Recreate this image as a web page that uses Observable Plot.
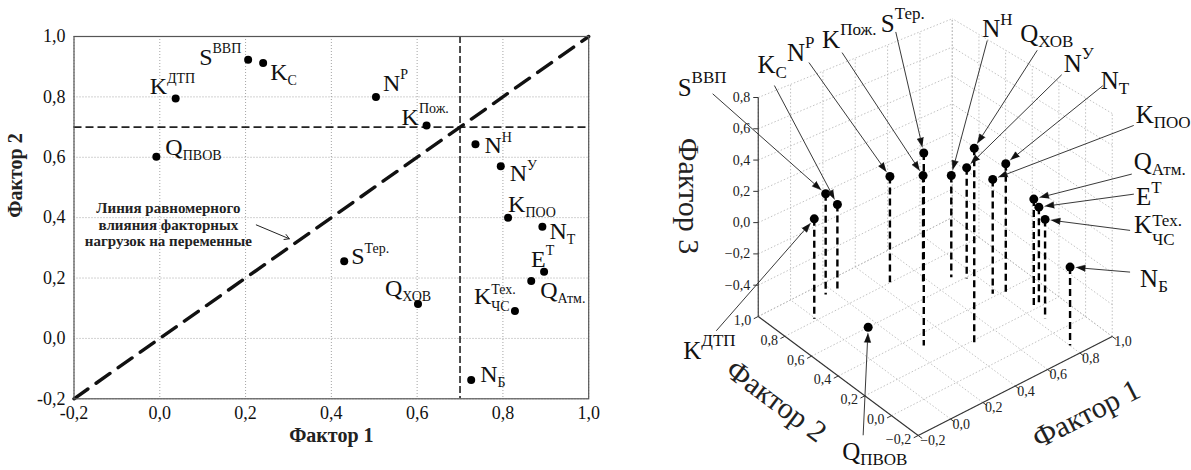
<!DOCTYPE html>
<html><head><meta charset="utf-8">
<script src="https://cdn.jsdelivr.net/npm/d3@7"></script>
<script src="https://cdn.jsdelivr.net/npm/@observablehq/plot@0.6"></script>
<style>
html,body{margin:0;padding:0;background:#fff;}
#wrap{position:relative;width:1191px;height:470px;overflow:hidden;font-family:"Liberation Serif",serif;}
#left{position:absolute;left:0;top:0;width:600px;height:470px;}
#right{position:absolute;left:600px;top:0;width:591px;height:470px;}
svg text{font-family:"Liberation Serif","Times New Roman",serif;}
</style></head><body>
<div id="wrap"><div id="left"></div><div id="right"></div></div>
<script>
// ---------------- DATA ----------------
const labelMain = ["S","K","K","N","K","Q","N","N","K","N","S","Q","E","Q","K","N"];
const labelSup  = ["ВВП","","ДТП","Р","Пож.","","Н","У","","","Тер.","","Т","","Тех.",""];
const labelSub  = ["","С","","","","ПВОВ","","","ПОО","Т","","ХОВ","","Атм.","ЧС","Б"];
// 2D loadings
const factor1 = [0.206,0.241,0.037,0.504,0.622,-0.008,0.736,0.795,0.812,0.892,0.430,0.602,0.896,0.866,0.828,0.726];
const factor2 = [0.923,0.912,0.795,0.800,0.705,0.602,0.643,0.570,0.400,0.370,0.256,0.114,0.221,0.190,0.091,-0.138];
// 3D loadings
const factor1_3d = [0.156,0.217,-0.006,0.452,0.577,0.150,0.702,0.752,0.772,0.828,0.264,0.454,0.900,0.857,0.841,0.801];
const factor2_3d = [0.926,0.912,0.815,0.803,0.706,0.600,0.646,0.591,0.420,0.390,0.321,0.173,0.229,0.215,0.111,-0.125];
const factor3_3d = [0.057,-0.035,0.038,0.098,0.100,-0.600,0.075,0.134,0.147,0.240,0.599,0.623,0.016,0.097,0.034,-0.112];
// ticks
const axisTicks = [-0.2,0,0.2,0.4,0.6,0.8,1.0];
const axisTickLabels = ["-0,2","0,0","0,2","0,4","0,6","0,8","1,0"];
const axis3dTickLabels = ["\u22120,2","0,0","0,2","0,4","0,6","0,8","1,0"];
const zTicks = [-0.4,-0.2,0,0.2,0.4,0.6,0.8];
const zTickLabels = ["\u22120,4","\u22120,2","0,0","0,2","0,4","0,6","0,8"];
const zGrid = [-0.6,-0.4,-0.2,0,0.2,0.4,0.6,0.8];
const f1Domain = [-0.2, 1.0], f2Domain = [-0.2, 1.0], f3Domain = [-0.6, 0.8];
const threshold = 0.7;
const diagonal = [-0.2, 1.0];
const annotationText = "Линия равномерного\nвлияния факторных\nнагрузок на переменные";
const annotationAnchor = [{x: 0.02, y: 0.377}];
const annotationArrow = [{x1: 0.225, y1: 0.376, x2: 0.302, y2: 0.33}];

// ---------------- LAYOUT (offsets in px) ----------------
const labelPos2d = [[-49,5],[7,17],[-26,-4],[7,-6],[-25,-1],[9,-2],[9,9],[9,15],[0,-6],[7,12],[7,3],[-33,-8],[-13,-5],[9,17],[-41,-7],[9,2]];
const labelPos3d = [
 [-148,-98,-113,-100],[-80,-132,-63,-119],[-131,140,-98,112],[-103,-116,-81,-114],
 [-101,-128,-81,-123],[-26,133,-5,108],[31,-138,36,-135],[97,-96,95,-93],
 [143,-56,141,-54],[95,-75,97,-78],[-43,-121,-28,-121],[46,-106,63,-98],
 [97,-2,95,-13],[100,-29,98,-25],[89,14,85,11],[70,20,60,5]
];
const view3d = {ox: 317.7, oy: 435, u1: [161.7, -82.5], u2: [-133.3, -99.2], s0: 156.4, sk: 0.1455, yRef: 316};

const serif = '"Liberation Serif", "Times New Roman", serif';
const NS = "http://www.w3.org/2000/svg";
const fmtBy = (ticks, labels) => d => { const k = ticks.findIndex(t => Math.abs(t - d) < 1e-6); return k < 0 ? "" : labels[k]; };

// ---------------- LEFT 2D CHART ----------------
const pts2d = factor1.map((f, i) => ({i, f1: f, f2: factor2[i]}));
const leftSvg = Plot.plot({
  width: 600, height: 470,
  marginLeft: 73.5, marginRight: 11.8, marginTop: 36, marginBottom: 71.7,
  style: {fontFamily: serif, fontSize: "18px", background: "transparent", color: "#111"},
  x: {domain: [-0.2, 1]},
  y: {domain: [-0.2, 1]},
  marks: [
    Plot.gridX(axisTicks, {stroke: "#9a9a9a", strokeOpacity: 1, strokeWidth: 0.9, strokeDasharray: "1,2"}),
    Plot.gridY(axisTicks, {stroke: "#9a9a9a", strokeOpacity: 1, strokeWidth: 0.9, strokeDasharray: "1,2"}),
    Plot.ruleX([threshold], {stroke: "#222", strokeWidth: 1.6, strokeDasharray: "7,3"}),
    Plot.ruleY([threshold], {stroke: "#222", strokeWidth: 1.6, strokeDasharray: "8,4"}),
    Plot.line(diagonal.map(v => ({v})), {x: "v", y: "v", stroke: "#111", strokeWidth: 3.4, strokeDasharray: "17,10"}),
    Plot.frame({stroke: "#555", strokeWidth: 1.2}),
    Plot.axisX(axisTicks, {tickSize: 0, tickPadding: 7, tickFormat: fmtBy(axisTicks, axisTickLabels), label: null, fontFamily: serif, fontSize: 18, fill: "#111"}),
    Plot.axisY(axisTicks, {tickSize: 0, tickPadding: 8.5, tickFormat: fmtBy(axisTicks, axisTickLabels), label: null, fontFamily: serif, fontSize: 18, fill: "#111"}),
    Plot.dot(pts2d, {x: "f1", y: "f2", r: 4, fill: "#000", stroke: "none"}),
    Plot.text(pts2d, {x: "f1", y: "f2", text: d => "§" + d.i, textAnchor: "start", lineAnchor: "bottom", fontSize: 24, fontFamily: serif, fill: "#111"}),
    Plot.text(annotationAnchor, {x: "x", y: "y", text: () => annotationText, fontWeight: "bold", fontSize: 15, fontFamily: serif, lineHeight: 1.1, textAnchor: "middle", lineAnchor: "middle", fill: "#222"}),
    Plot.arrow(annotationArrow, {x1: "x1", y1: "y1", x2: "x2", y2: "y2", stroke: "#222", strokeWidth: 1, headLength: 8}),
    Plot.text(["Фактор 1"], {text: d => d, frameAnchor: "bottom", dy: 43, fontWeight: "bold", fontSize: 20, fontFamily: serif, fill: "#222"}),
    Plot.text(["Фактор 2"], {text: d => d, frameAnchor: "left", dx: -58, rotate: -90, fontWeight: "bold", fontSize: 20, fontFamily: serif, fill: "#222"})
  ]
});

// ---------------- RIGHT 3D CHART ----------------
function proj(f1, f2, f3) {
  const a = f1 - f1Domain[0], b = f2 - f2Domain[0];
  const xf = view3d.ox + a * view3d.u1[0] + b * view3d.u2[0];
  const yf = view3d.oy + a * view3d.u1[1] + b * view3d.u2[1];
  const s = view3d.s0 + view3d.sk * (yf - view3d.yRef);
  return [xf, yf - (f3 - f3Domain[0]) * s];
}
const [x0, x1] = f1Domain, [y0, y1] = f2Domain, [zmin, zmax] = f3Domain;
const seg = (p, q) => ({p: proj(...p), q: proj(...q)});
const grid3d = [];
axisTicks.forEach(t => {
  grid3d.push(seg([t, y0, zmin], [t, y1, zmin]));   // floor
  grid3d.push(seg([x0, t, zmin], [x1, t, zmin]));
  grid3d.push(seg([t, y1, zmin], [t, y1, zmax]));   // back wall f2 = max
  grid3d.push(seg([x1, t, zmin], [x1, t, zmax]));   // back wall f1 = max
});
zGrid.forEach(z => {
  grid3d.push(seg([x0, y1, z], [x1, y1, z]));
  grid3d.push(seg([x1, y0, z], [x1, y1, z]));
});
const axes3d = [seg([x0, y0, zmin], [x1, y0, zmin]), seg([x0, y0, zmin], [x0, y1, zmin]), seg([x0, y1, zmin], [x0, y1, zmax])];
const n1 = Math.hypot(...view3d.u1), n2 = Math.hypot(...view3d.u2);
const dirF1Tick = [-view3d.u2[0] / n2, -view3d.u2[1] / n2];
const dirF2Tick = [-view3d.u1[0] / n1, -view3d.u1[1] / n1];
const f1TickPts = axisTicks.map((t, k) => ({p: proj(t, y0, zmin), label: axis3dTickLabels[k]}));
const f2TickPts = axisTicks.map((t, k) => ({p: proj(x0, t, zmin), label: axis3dTickLabels[k]}));
const zTickPts = zTicks.map((z, k) => ({p: proj(x0, y1, z), label: zTickLabels[k]}));

const idx = labelMain.map((_, i) => i);
const P3 = idx.map(i => proj(factor1_3d[i], factor2_3d[i], factor3_3d[i]));
const drops = idx.filter(i => factor3_3d[i] > zmin + 0.02).map(i => ({p: P3[i], q: proj(factor1_3d[i], factor2_3d[i], zmin)}));
const rDot = 4.5, headLen = 9, headW = 3.2;
const arrows3d = idx.map(i => {
  const [px, py] = P3[i];
  const sx = px + labelPos3d[i][2], sy = py + labelPos3d[i][3];
  let dx = px - sx, dy = py - sy; const L = Math.hypot(dx, dy); dx /= L; dy /= L;
  const tip = [px - dx * (rDot + 1.5), py - dy * (rDot + 1.5)];
  const base = [tip[0] - dx * headLen, tip[1] - dy * headLen];
  return {i, sx, sy, tip, base, l: [base[0] - dy * headW, base[1] + dx * headW], r: [base[0] + dy * headW, base[1] - dx * headW]};
});
const heads = arrows3d.flatMap(a => [{i: a.i, p: a.tip}, {i: a.i, p: a.l}, {i: a.i, p: a.r}]);
const midF2 = proj(x0, (y0 + y1) / 2, zmin), midF1 = proj((x0 + x1) / 2, y0, zmin), midZ = proj(x0, y1, (zmin + zmax) / 2);
const angF1 = Math.atan2(view3d.u1[1], view3d.u1[0]) * 180 / Math.PI;
const angF2 = Math.atan2(-view3d.u2[1], -view3d.u2[0]) * 180 / Math.PI;

const rightSvg = Plot.plot({
  width: 591, height: 470, margin: 0,
  style: {fontFamily: serif, fontSize: "14px", background: "transparent", color: "#111"},
  x: {type: "identity", axis: null},
  y: {type: "identity", axis: null},
  marks: [
    Plot.link(grid3d, {x1: d => d.p[0], y1: d => d.p[1], x2: d => d.q[0], y2: d => d.q[1], stroke: "#b3b3b3", strokeWidth: 0.8, strokeDasharray: "1.5,2"}),
    Plot.link(axes3d, {x1: d => d.p[0], y1: d => d.p[1], x2: d => d.q[0], y2: d => d.q[1], stroke: "#333", strokeWidth: 1.1}),
    Plot.link(f1TickPts, {x1: d => d.p[0], y1: d => d.p[1], x2: d => d.p[0] + 5 * dirF1Tick[0], y2: d => d.p[1] + 5 * dirF1Tick[1], stroke: "#333"}),
    Plot.link(f2TickPts, {x1: d => d.p[0], y1: d => d.p[1], x2: d => d.p[0] + 5 * dirF2Tick[0], y2: d => d.p[1] + 5 * dirF2Tick[1], stroke: "#333"}),
    Plot.link(zTickPts, {x1: d => d.p[0], y1: d => d.p[1], x2: d => d.p[0] - 5, y2: d => d.p[1], stroke: "#333"}),
    Plot.text(f1TickPts, {x: d => d.p[0] + 2, y: d => d.p[1] + 5.5, text: "label", textAnchor: "start", fontSize: 14, fontFamily: serif, fill: "#222"}),
    Plot.text(f2TickPts, {x: d => d.p[0] - 7, y: d => d.p[1] + 4, text: "label", textAnchor: "end", fontSize: 14, fontFamily: serif, fill: "#222"}),
    Plot.text(zTickPts, {x: d => d.p[0] - 8, y: d => d.p[1], text: "label", textAnchor: "end", fontSize: 14, fontFamily: serif, fill: "#222"}),
    Plot.link(drops, {x1: d => d.p[0], y1: d => d.p[1], x2: d => d.q[0], y2: d => d.q[1], stroke: "#000", strokeWidth: 2.4, strokeDasharray: "7,4"}),
    Plot.dot(idx, {x: i => P3[i][0], y: i => P3[i][1], r: rDot, fill: "#000", stroke: "none"}),
    Plot.link(arrows3d, {x1: "sx", y1: "sy", x2: d => d.base[0], y2: d => d.base[1], stroke: "#222", strokeWidth: 0.9}),
    Plot.line(heads, {x: d => d.p[0], y: d => d.p[1], z: "i", fill: "#111", stroke: "#111", strokeWidth: 0.6}),
    Plot.text(idx, {x: i => P3[i][0], y: i => P3[i][1], text: i => "§" + i, textAnchor: "start", lineAnchor: "bottom", fontSize: 25, fontFamily: serif, fill: "#111"}),
    Plot.text(["Фактор 3"], {text: d => d, x: () => midZ[0] - 70, y: () => midZ[1] - 11, rotate: 90, fontSize: 30, fontFamily: serif, fill: "#222"}),
    Plot.text(["Фактор 2"], {text: d => d, x: () => midF2[0] - 62, y: () => midF2[1] + 25, rotate: angF2, fontSize: 30, fontFamily: serif, fill: "#222"}),
    Plot.text(["Фактор 1"], {text: d => d, x: () => midF1[0] + 71, y: () => midF1[1] + 28, rotate: angF1, fontSize: 30, fontFamily: serif, fill: "#222"})
  ]
});

document.getElementById("left").appendChild(leftSvg);
document.getElementById("right").appendChild(rightSvg);

// rich labels with super/subscripts
function decorate(svg, offsets, mainSize, subSize, k) {
  svg.querySelectorAll("text").forEach(t => {
    const m = /^§(\d+)$/.exec((t.textContent || "").trim());
    if (!m) return;
    const i = +m[1];
    const [ox, oy] = offsets[i];
    t.textContent = "";
    const main = document.createElementNS(NS, "tspan");
    main.setAttribute("dx", ox); main.setAttribute("dy", oy);
    main.setAttribute("font-size", mainSize);
    main.textContent = labelMain[i];
    t.appendChild(main);
    const sup = labelSup[i], sub = labelSub[i];
    const stacked = !!(sup && sub);
    const raise = (stacked ? k.sraise : k.raise) * mainSize, drop = (stacked ? k.sdrop : k.drop) * mainSize;
    let supEl = null;
    if (sup) {
      supEl = document.createElementNS(NS, "tspan");
      supEl.setAttribute("font-size", subSize);
      supEl.setAttribute("dy", -raise);
      supEl.textContent = sup;
      t.appendChild(supEl);
    }
    if (sub) {
      const s = document.createElementNS(NS, "tspan");
      s.setAttribute("font-size", subSize);
      s.setAttribute("dy", stacked ? raise + drop : drop);
      if (stacked) s.setAttribute("dx", -supEl.getComputedTextLength());
      s.textContent = sub;
      t.appendChild(s);
    }
  });
}
decorate(leftSvg, labelPos2d, 24, 14, {raise: 0.48, drop: 0.22, sraise: 0.42, sdrop: 0.28});
decorate(rightSvg, labelPos3d.map(d => [d[0], d[1]]), 25, 17, {raise: 0.5, drop: 0.2, sraise: 0.3, sdrop: 0.45});
</script>
</body></html>
